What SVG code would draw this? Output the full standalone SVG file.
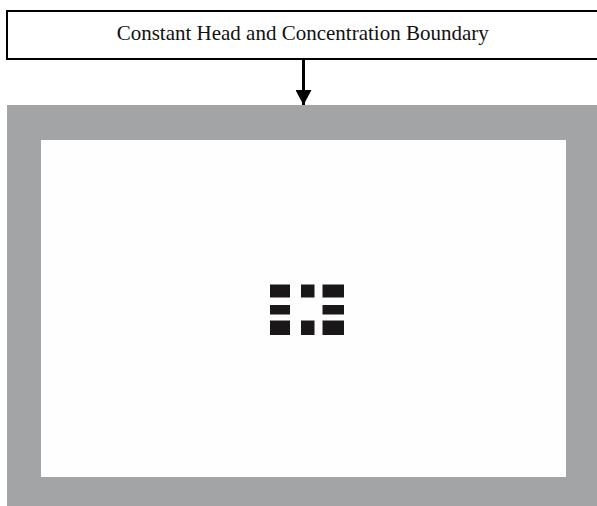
<svg xmlns="http://www.w3.org/2000/svg" width="597" height="506" viewBox="0 0 597 506">
<style>
.lbl{font-family:"Liberation Serif","Times New Roman",serif;font-size:21px;fill:#111;}
.blk{fill:#1a1718;}
</style>
<defs>
<marker id="ah" markerWidth="16" markerHeight="16" refX="15" refY="8" orient="auto" markerUnits="userSpaceOnUse">
<path d="M0,0 L15,8 L0,16 Z" fill="#000"/>
</marker>
</defs>
<rect x="0" y="0" width="597" height="506" fill="#fff"/>
<g id="domain">
<rect x="7" y="105" width="590" height="401" fill="#a3a4a6"/>
<rect x="41" y="140" width="525" height="337" fill="#fefefe"/>
</g>
<g id="boundary">
<rect x="7" y="11" width="600" height="48" fill="#fff" stroke="#000" stroke-width="2"/>
<text class="lbl" x="302.7" y="40" text-anchor="middle">Constant Head and Concentration Boundary</text>
</g>
<g id="connectors">
<line x1="303.5" y1="59" x2="303.5" y2="105" stroke="#000" stroke-width="3" marker-end="url(#ah)"/>
</g>
<g id="wells">
<rect class="blk" x="270" y="284.5" width="20" height="13"/>
<rect class="blk" x="301" y="284.5" width="13.5" height="13"/>
<rect class="blk" x="322.5" y="284.5" width="21.5" height="13"/>
<rect class="blk" x="270" y="305" width="20" height="9.5"/>
<rect class="blk" x="322.5" y="305" width="21.5" height="9.5"/>
<rect class="blk" x="270" y="320.5" width="20" height="14.5"/>
<rect class="blk" x="301" y="320.5" width="13.5" height="14.5"/>
<rect class="blk" x="322.5" y="320.5" width="21.5" height="14.5"/>
</g>
</svg>
